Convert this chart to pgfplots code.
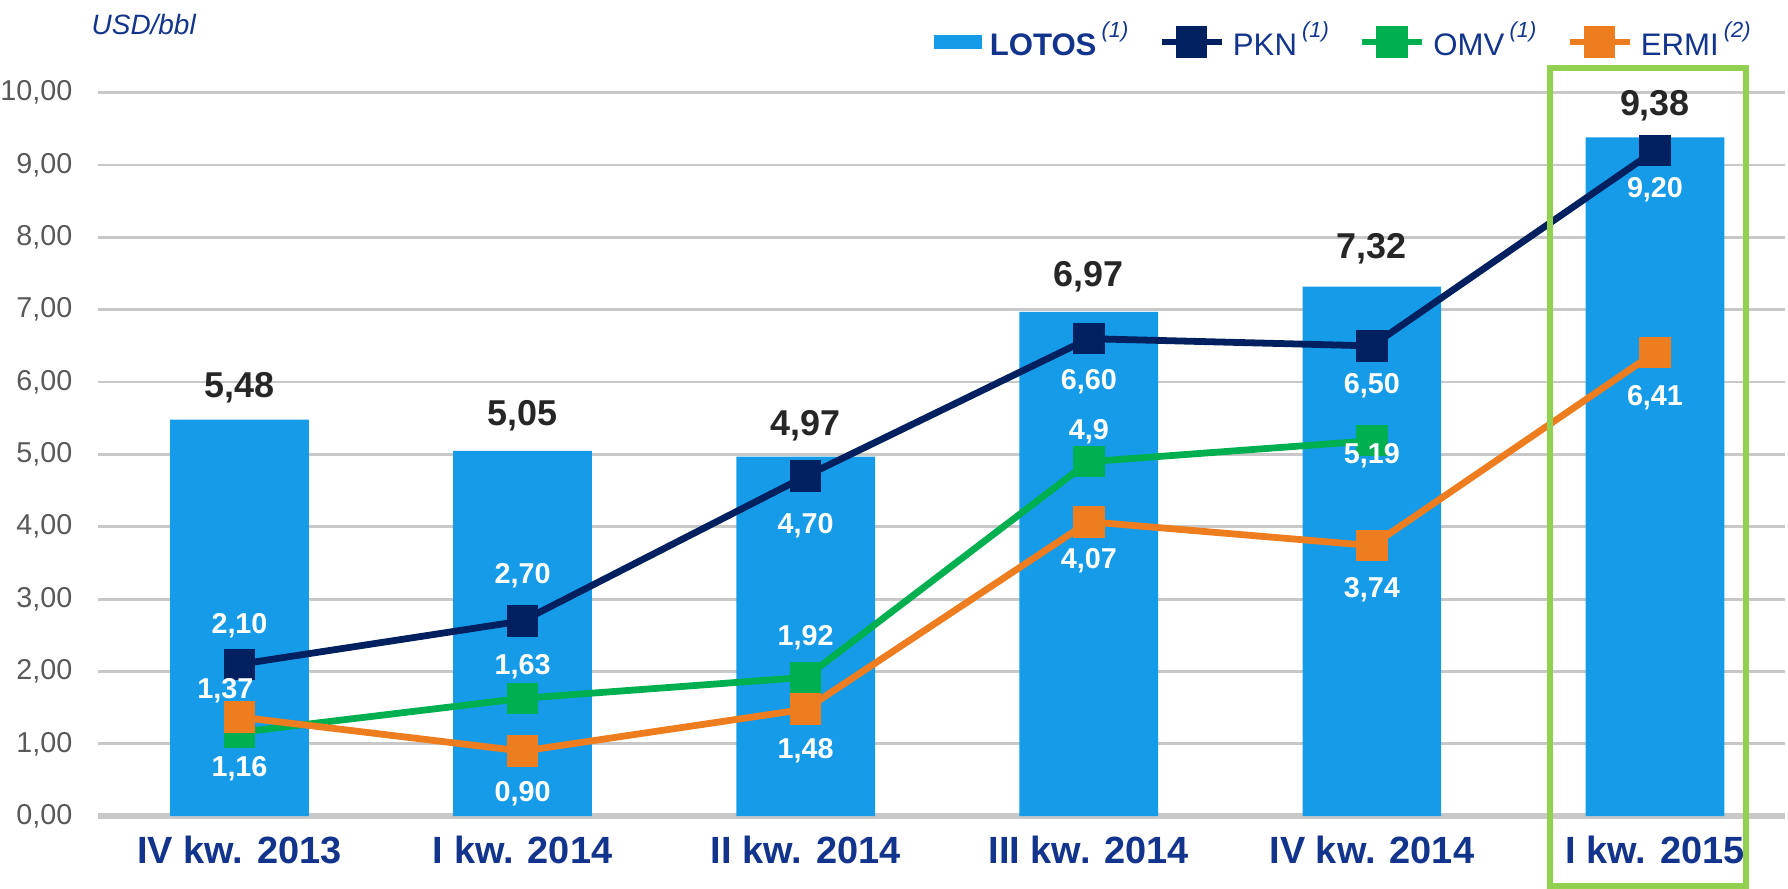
\documentclass[border=0pt]{standalone}
\usepackage{fontspec}
\setmainfont{Liberation Sans}
\usepackage{pgfplots}
\pgfplotsset{compat=1.18}
\usepackage{pgfplotstable}

\definecolor{lotos}{HTML}{169BE8}
\definecolor{pkn}{HTML}{002060}
\definecolor{omv}{HTML}{00B050}
\definecolor{ermi}{HTML}{ED7D1F}
\definecolor{boxgreen}{HTML}{92D050}
\definecolor{textblue}{HTML}{12348C}
\definecolor{gridgray}{HTML}{C8C8C8}
\definecolor{ticktext}{HTML}{595959}
\definecolor{toptext}{HTML}{262626}

\newcommand{\note}[1]{\,\textsuperscript{\raisebox{0.6ex}{\itshape(#1)}}}

% quarterly values
\pgfplotstableread{
x lotos pkn ermi
0 5.48 2.10 1.37
1 5.05 2.70 0.90
2 4.97 4.70 1.48
3 6.97 6.60 4.07
4 7.32 6.50 3.74
5 9.38 9.20 6.41
}\data
\pgfplotstableread{
x omv
0 1.16
1 1.63
2 1.92
3 4.90
4 5.19
}\omvdata

% label positions
\pgfplotstableread{
x y t
0 5.92 5,48
1 5.53 5,05
2 5.40 4,97
3 7.46 6,97
4 7.84 7,32
5 9.82 9,38
}\toplabels
\pgfplotstableread{
x y t
0 2.63 2,10
1 3.32 2,70
2 4.02 4,70
3 6.01 6,60
4 5.95 6,50
5 8.66 9,20
0 0.66 1,16
1 2.07 1,63
2 2.47 1,92
3 5.31 4,9
4 4.98 5,19
-0.05 1.74 1,37
1 0.31 0,90
2 0.91 1,48
3 3.53 4,07
4 3.13 3,74
5 5.79 6,41
}\whitelabels

\begin{document}
\begin{tikzpicture}
\begin{axis}[
    scale only axis,
    width=422.5pt, height=181.2pt,
    xmin=-0.5, xmax=5.46,
    ymin=0, ymax=10,
    axis line style={draw=none},
    xtick pos=bottom, ytick pos=left,
    clip=false,
    xtick={0,...,5},
    xticklabels={IV kw. 2013, I kw. 2014, II kw. 2014, III kw. 2014, IV kw. 2014, I kw. 2015},
    xticklabel style={anchor=center, yshift=-8.5pt, font=\fontsize{9.5}{11}\selectfont\bfseries, text=textblue},
    ytick={0,1,...,10},
    yticklabel style={anchor=east, inner sep=0pt, xshift=-6.2pt, font=\fontsize{7.2}{9}\selectfont, text=ticktext},
    /pgf/number format/.cd, use comma, fixed, fixed zerofill, precision=2, assume math mode=true,
    /pgfplots/.cd,
    major tick length=0pt,
    ymajorgrids,
    grid style={gridgray, line width=0.7pt},
    extra y ticks={0},
    extra y tick labels={},
    extra y tick style={grid style={gridgray, line width=1.4pt}},
    legend columns=4,
    legend style={at={(rel axis cs:0.993,1.07)}, anchor=east, draw=none, fill=none,
        font=\fontsize{7.8}{9}\selectfont, text=textblue,
        /tikz/every even column/.append style={column sep=5pt},
        /tikz/every odd column/.append style={column sep=0pt}},
    legend image code/.code={\draw[mark repeat=2, mark phase=2, #1] plot coordinates {(0pt,0pt) (7.5pt,0pt) (15pt,0pt)};},
]

\addplot[ybar, bar width=0.49, fill=lotos, draw=none,
    legend image code/.code={\fill[lotos] (0pt,-1.8pt) rectangle (12pt,1.8pt);}]
    table[x=x, y=lotos] {\data};
\addlegendentry{\textbf{LOTOS}\note{1}}

\addplot[pkn, line width=1.7pt, mark=square*, mark size=3.1pt]
    table[x=x, y=pkn] {\data};
\addlegendentry{PKN\note{1}}

\addplot[omv, line width=1.7pt, mark=square*, mark size=3.1pt]
    table[x=x, y=omv] {\omvdata};
\addlegendentry{OMV\note{1}}

\addplot[ermi, line width=1.7pt, mark=square*, mark size=3.1pt]
    table[x=x, y=ermi] {\data};
\addlegendentry{ERMI\note{2}}

\addplot[forget plot, draw=none, mark=none, point meta=explicit symbolic,
    nodes near coords, nodes near coords align=center,
    every node near coord/.append style={anchor=center, font=\fontsize{9}{11}\selectfont\bfseries, text=toptext}]
    table[x=x, y=y, meta=t] {\toplabels};

\addplot[forget plot, draw=none, mark=none, point meta=explicit symbolic,
    nodes near coords, nodes near coords align=center,
    every node near coord/.append style={anchor=center, font=\fontsize{7.2}{9}\selectfont\bfseries, text=white}]
    table[x=x, y=y, meta=t] {\whitelabels};

% highlight box for the last quarter
\draw[boxgreen, line width=1.5pt] (axis cs:4.63,-0.96) rectangle (axis cs:5.32,10.34);

\node[anchor=west, inner sep=0pt, font=\fontsize{7}{9}\selectfont\itshape, text=textblue]
    at (axis cs:-0.525,10.94) {USD/bbl};

% page extent
\path (axis cs:-0.846,11.28) rectangle (axis cs:5.46,-0.98);
\end{axis}
\end{tikzpicture}
\end{document}
